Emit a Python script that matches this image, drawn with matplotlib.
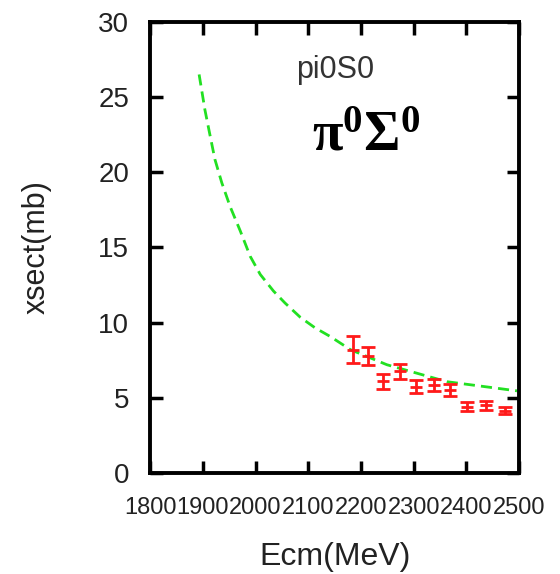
import matplotlib
matplotlib.use("Agg")
import matplotlib.pyplot as plt

# pontos
ecm = [2185, 2214, 2241, 2274, 2305, 2339, 2369, 2401, 2438, 2474]
xsect = [8.2, 7.75, 6.1, 6.75, 5.75, 5.85, 5.5, 4.4, 4.5, 4.15]
erro = [0.9, 0.6, 0.5, 0.5, 0.45, 0.4, 0.4, 0.3, 0.3, 0.25]

# curva teorica (tracejada verde)
curva_x = [1893, 1904, 1914, 1923, 1936, 1952, 1971, 1990, 2009, 2034,
           2056, 2085, 2113, 2142, 2180, 2249, 2363, 2496]
curva_y = [26.5, 24.15, 22.4, 20.85, 19.3, 17.7, 16.1, 14.4, 13.2, 12.1,
           11.3, 10.35, 9.65, 9.07, 8.2, 7.2, 6.07, 5.46]

xticks = [1800, 1900, 2000, 2100, 2200, 2300, 2400, 2500]
yticks = [0, 5, 10, 15, 20, 25, 30]

plt.rcParams['font.family'] = ['Liberation Sans', 'DejaVu Sans']
plt.rcParams['mathtext.fontset'] = 'custom'
plt.rcParams['mathtext.rm'] = 'Liberation Serif:bold'

fig = plt.figure(figsize=(5.6, 5.74), dpi=100)
ax = fig.add_axes([0.268, 0.176, 0.659, 0.786])

ax.plot(curva_x, curva_y, color='#22e022', lw=2.0, dashes=(4.0, 2.2))
ax.errorbar(ecm, xsect, yerr=erro, fmt='_', color='#ff1a1a', ms=9, mew=2.0,
            elinewidth=2.0, capsize=4.7, capthick=2.0)

ax.set_xlim(1800, 2500)
ax.set_ylim(0, 30)
ax.set_xticks(xticks)
ax.set_yticks(yticks)
ax.set_xticklabels([str(t) for t in xticks], fontsize=17, color='#222222')
ax.set_yticklabels([str(t) for t in yticks], fontsize=20, color='#222222')
ax.tick_params(direction='in', length=9, width=2.5, top=True, right=True)
ax.tick_params(axis='y', pad=15)
ax.tick_params(axis='x', pad=17)
for s in ax.spines.values():
    s.set_linewidth(2.8)

ax.set_xlabel("Ecm(MeV)", fontsize=23, color='#222222')
ax.set_ylabel("xsect(mb)", fontsize=22, color='#222222')
ax.xaxis.set_label_coords(0.501, -0.152)
ax.yaxis.set_label_coords(-0.268, 0.5)

ax.text(2151, 26.8, "pi0S0", fontsize=22, color='#333333', ha='center', va='center')
ax.text(2107, 22.4, r"$\mathrm{\pi^0\Sigma^0}$", fontsize=40, color='black', ha='left', va='center')

plt.savefig("out.png", dpi=100)
